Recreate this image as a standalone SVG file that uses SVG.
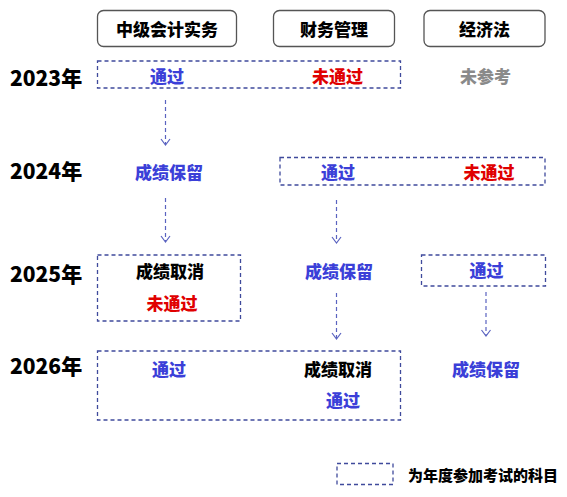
<svg xmlns="http://www.w3.org/2000/svg" width="567" height="497" viewBox="0 0 567 497">
<defs>
<style>
text{font-family:"Noto Sans CJK SC","Noto Sans",sans-serif;font-weight:900;dominant-baseline:central}
.hdr rect{fill:#fff;stroke:#555;stroke-width:1.3}
.hdr text{font-size:17px;fill:#000;text-anchor:middle}
.yr{font-size:21px;fill:#000}
.t{font-size:17px;text-anchor:middle}
.b{fill:#3b3fd8}
.r{fill:#e00000}
.g{fill:#8a8a8a}
.k{fill:#000}
.dash{fill:none;stroke:#3f4a9c;stroke-width:1.3;stroke-dasharray:4 3}
.conn line{stroke:#5a63c0;stroke-width:1.2;stroke-dasharray:4 3}
.conn polyline{fill:none;stroke:#5a63c0;stroke-width:1.2}
</style>
</defs>
<rect width="567" height="497" fill="#fff"/>
<g id="headers">
<g id="h1" class="hdr"><rect x="97.5" y="10.5" width="139" height="36" rx="6"/><text x="167" y="28.5">中级会计实务</text></g>
<g id="h2" class="hdr"><rect x="273.5" y="10.5" width="121" height="36" rx="6"/><text x="334" y="28.5">财务管理</text></g>
<g id="h3" class="hdr"><rect x="424" y="10.5" width="121" height="36" rx="6"/><text x="484.5" y="28.5">经济法</text></g>
</g>
<g id="years">
<text class="yr" x="10" y="77">2023年</text>
<text class="yr" x="10" y="170">2024年</text>
<text class="yr" x="10" y="273">2025年</text>
<text class="yr" x="10" y="365">2026年</text>
</g>
<g id="y2023">
<rect class="dash" x="97.5" y="61" width="303" height="27"/>
<text class="t b" x="167" y="75">通过</text>
<text class="t r" x="337.5" y="75">未通过</text>
<text class="t g" x="485.5" y="75">未参考</text>
</g>
<g id="y2024">
<rect class="dash" x="280" y="157.5" width="265" height="27.5"/>
<text class="t b" x="169" y="171.5">成绩保留</text>
<text class="t b" x="338" y="171.5">通过</text>
<text class="t r" x="489" y="171.5">未通过</text>
</g>
<g id="y2025">
<rect class="dash" x="97.5" y="255" width="143" height="66"/>
<text class="t k" x="170" y="270.5">成绩取消</text>
<text class="t r" x="172" y="302">未通过</text>
<text class="t b" x="339" y="270">成绩保留</text>
<rect class="dash" x="421.5" y="255" width="124" height="31"/>
<text class="t b" x="486.5" y="269.5">通过</text>
</g>
<g id="y2026">
<rect class="dash" x="97.5" y="351" width="303" height="69"/>
<text class="t b" x="169" y="368.5">通过</text>
<text class="t k" x="338" y="368.5">成绩取消</text>
<text class="t b" x="343" y="399.5">通过</text>
<text class="t b" x="486" y="368.5">成绩保留</text>
</g>
<g id="connectors" class="conn">
<line x1="165.5" y1="100" x2="165.5" y2="144"/><polyline points="161,139 165.5,145 170,139"/>
<line x1="165.5" y1="198" x2="165.5" y2="241"/><polyline points="161,236 165.5,242 170,236"/>
<line x1="336.5" y1="200" x2="336.5" y2="242"/><polyline points="332,237 336.5,243 341,237"/>
<line x1="336.5" y1="293" x2="336.5" y2="338"/><polyline points="332,333 336.5,339 341,333"/>
<line x1="486" y1="292" x2="486" y2="335"/><polyline points="481.5,330 486,336 490.5,330"/>
</g>
<g id="legend">
<rect class="dash" x="337" y="463.5" width="56" height="21"/>
<text x="408" y="474" style="font-size:15px;fill:#000">为年度参加考试的科目</text>
</g>
</svg>
